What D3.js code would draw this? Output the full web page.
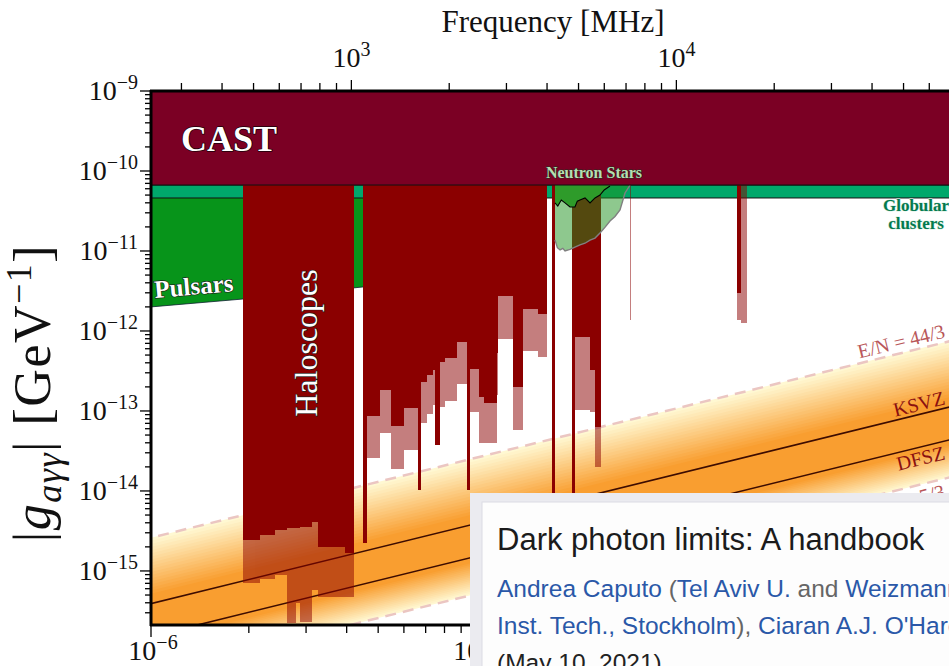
<!DOCTYPE html>
<html>
<head>
<meta charset="utf-8">
<title>Axion-photon coupling limits</title>
<script src="https://d3js.org/d3.v7.min.js"></script>
<style>
  body { margin: 0; background: #fff; }
  svg { display: block; }
</style>
</head>
<body>
<svg id="chart"></svg>
<script>
// masses in µeV, couplings |g| in GeV^-1
const castLimit = 6.68e-11;
const globularLimit = 4.6e-11;

// pulsar lower edge [mass, g]
const pulsarEdge = [[1.0, 2.0e-12], [1.919, 2.51e-12], [4.49, 3.55e-12], [6.0, 3.9e-12]];

// haloscope steps: [m0, m1, dark limit, faint limit]
const haloscopes = [
  [1.919, 2.165, 2.44e-15, 7.08e-16],
  [2.165, 2.40, 2.82e-15, 7.94e-16],
  [2.40, 2.62, 3.25e-15, 8.91e-16],
  [2.62, 2.79, 3.45e-15, 2.24e-16],
  [2.79, 2.874, 3.45e-15, 4.0e-16],
  [2.874, 3.13, 3.55e-15, 2.3e-16],
  [3.13, 3.265, 4.1e-15, 5.8e-16],
  [3.265, 3.953, 1.97e-15, 4.73e-16],
  [3.953, 4.214, 1.68e-15, 4.73e-16],
  [4.49, 4.62, 2.24e-15, 2.24e-15],
  [4.62, 5.065, 8.66e-14, 2.58e-14],
  [5.065, 5.476, 1.83e-13, 5.31e-14],
  [5.476, 6.004, 6.49e-14, 1.88e-14],
  [6.004, 6.63, 1.09e-13, 3.25e-14],
  [6.63, 6.772, 1.03e-14, 1.03e-14],
  [6.772, 7.07, 2.3e-13, 7.08e-14],
  [7.07, 7.376, 2.82e-13, 9.17e-14],
  [7.376, 7.48, 3.25e-13, 1.19e-13],
  [7.48, 7.75, 3.76e-14, 3.76e-14],
  [7.75, 8.03, 4.1e-13, 1.13e-13],
  [8.03, 8.74, 4.6e-13, 1.33e-13],
  [8.74, 9.38, 7.29e-13, 2.17e-13],
  [9.38, 9.58, 1.03e-14, 1.03e-14],
  [9.58, 10.21, 3.35e-13, 9.7e-14],
  [10.21, 10.58, 1.5e-13, 4.0e-14],
  [10.58, 11.6, 1.26e-13, 3.98e-14],
  [11.6, 11.68, 5.31e-13, 1.58e-13],
  [11.68, 13.0, 2.74e-12, 7.94e-13],
  [13.0, 13.95, 2.0e-13, 5.79e-14],
  [13.95, 15.52, 1.88e-12, 5.62e-13],
  [15.52, 16.54, 1.63e-12, 4.73e-13],
  [17.14, 17.5, 1.37e-15, 1.37e-15],
  [19.74, 20.16, 1.37e-15, 1.37e-15],
  [20.16, 22.43, 8.41e-13, 1.03e-13],
  [22.43, 23.24, 3.25e-13, 9.7e-14],
  [23.24, 24.24, 6.31e-14, 2.0e-14],
  [29.78, 30.0, castLimit, 1.37e-12],
  [63.55, 65.6, 3.0e-12, 1.37e-12],
  [65.6, 68.2, castLimit, 1.26e-12]
];

// neutron stars: faint lower edge and solid lower edge
const nsFaint = [[17.5, 1.37e-11], [17.8, 1.1e-11], [18.14, 1.03e-11], [18.5, 1.08e-11],
  [18.79, 1.0e-11], [19.46, 1.05e-11], [20.16, 1.12e-11], [20.89, 1.19e-11], [21.65, 1.25e-11],
  [22.43, 1.37e-11], [23.24, 1.45e-11], [24.07, 1.68e-11], [25.0, 2.0e-11], [25.84, 2.37e-11],
  [26.77, 2.7e-11], [27.74, 3.25e-11], [28.74, 5.31e-11], [29.78, 6.68e-11]];
const nsSolid = [[17.5, 3.98e-11], [17.85, 3.65e-11], [18.3, 4.34e-11], [18.79, 4.0e-11],
  [19.46, 3.55e-11], [20.16, 3.55e-11], [20.5, 4.2e-11], [20.89, 4.34e-11], [21.65, 4.6e-11],
  [22.43, 3.98e-11], [23.24, 4.6e-11], [24.07, 5.01e-11], [24.8, 5.79e-11], [25.84, 6.49e-11]];

// QCD axion lines, coupling at 1 µeV (g grows linearly with mass)
const qcdNames = ["E/N = 44/3", "KSVZ", "DFSZ", "E/N = 5/3"];
const qcdAt1ueV = [2.6e-15, 3.91e-16, 1.52e-16, 5.16e-17];
const bandCore = [5.2e-16, 1.3e-16];

const width = 949, height = 666;
const ueV = 1e-6;
const planck = 4.1357e-9; // eV per MHz

const svg = d3.select("#chart").attr("width", width).attr("height", height);
const serif = '"Liberation Serif", "DejaVu Serif", serif';

const x = d3.scaleLog().domain([1e-6, 1e-3]).range([151, 1126]);
const y = d3.scaleLog().domain([2.11e-16, 1e-9]).range([625, 91]);
const xf = d3.scaleLog().domain([1e-6 / planck, 1e-3 / planck]).range(x.range());

svg.append("clipPath").attr("id", "plotclip")
  .append("rect").attr("x", 151).attr("y", 91).attr("width", 975).attr("height", 534);

const plot = svg.append("g").attr("clip-path", "url(#plotclip)");
const px = m => x(m * ueV);
const line = d3.line().x(d => px(d[0])).y(d => y(d[1]));

// QCD band
const bandColor = d3.interpolateRgb("#fff8d2", "#f99e30");
const nLevels = 18;
const lerpLog = (a, b, t) => Math.exp(Math.log(a) + (Math.log(b) - Math.log(a)) * t);
d3.range(nLevels + 1).forEach(k => {
  const t = k / nLevels;
  const hi = lerpLog(qcdAt1ueV[0], bandCore[0], t);
  const lo = lerpLog(qcdAt1ueV[3], bandCore[1], t);
  plot.append("path")
    .attr("d", line([[0.1, hi * 0.1], [2000, hi * 2000], [2000, lo * 2000], [0.1, lo * 0.1]]) + "Z")
    .attr("fill", bandColor(t));
});

qcdAt1ueV.forEach((g0, i) => {
  const dashed = i === 0 || i === 3;
  plot.append("path")
    .attr("d", line([[0.1, g0 * 0.1], [2000, g0 * 2000]]))
    .attr("fill", "none")
    .attr("stroke", dashed ? "#ebc6c2" : "#3d0c00")
    .attr("stroke-width", dashed ? 2.5 : 1.6)
    .attr("stroke-dasharray", dashed ? "11,7" : null);
});

// pulsars and globular clusters
plot.append("path")
  .attr("d", d3.area().x(d => px(d[0])).y0(d => y(d[1])).y1(y(globularLimit))(pulsarEdge))
  .attr("fill", "#07941a");
plot.append("path")
  .attr("d", line(pulsarEdge))
  .attr("fill", "none").attr("stroke", "#123").attr("stroke-width", 0.8);
plot.append("rect")
  .attr("x", 151).attr("width", 975)
  .attr("y", y(castLimit)).attr("height", y(globularLimit) - y(castLimit))
  .attr("fill", "#00a86b").attr("stroke", "#111").attr("stroke-width", 1);

// haloscopes
const faint = plot.append("g").attr("opacity", 0.5);
const solid = plot.append("g");
haloscopes.forEach(([m0, m1, gDark, gFaint]) => {
  faint.append("rect")
    .attr("x", px(m0)).attr("width", px(m1) - px(m0))
    .attr("y", y(1e-9)).attr("height", y(gFaint) - y(1e-9))
    .attr("fill", "#8b0000").attr("shape-rendering", "crispEdges");
  solid.append("rect")
    .attr("x", px(m0)).attr("width", px(m1) - px(m0))
    .attr("y", y(1e-9)).attr("height", y(gDark) - y(1e-9))
    .attr("fill", "#8b0000").attr("shape-rendering", "crispEdges");
});

// neutron stars
const nsArea = d3.area().x(d => px(d[0])).y0(d => y(d[1])).y1(y(castLimit));
plot.append("path").attr("d", nsArea(nsFaint))
  .attr("fill", "rgb(30,145,30)").attr("fill-opacity", 0.5);
plot.append("path").attr("d", line(nsFaint))
  .attr("fill", "none").attr("stroke", "#808080").attr("stroke-width", 1.4);
plot.append("path").attr("d", nsArea(nsSolid)).attr("fill", "#2e9b2a");
plot.append("path").attr("d", line(nsSolid))
  .attr("fill", "none").attr("stroke", "#000").attr("stroke-width", 1.1);

// CAST
plot.append("rect")
  .attr("x", 151).attr("width", 975)
  .attr("y", y(1e-9)).attr("height", y(castLimit) - y(1e-9))
  .attr("fill", "#7b0024").attr("stroke", "#111").attr("stroke-width", 1);

// region labels
const outlined = (sel, stroke, w) => sel.attr("stroke", stroke).attr("stroke-width", w)
  .attr("paint-order", "stroke").attr("stroke-linejoin", "round");

outlined(plot.append("text").attr("x", 181).attr("y", 151)
  .attr("font-family", serif).attr("font-size", 36).attr("font-weight", "bold")
  .attr("fill", "#fff").text("CAST"), "#1a0008", 1.5);

outlined(plot.append("text").attr("transform", "translate(317,343) rotate(-90)")
  .attr("text-anchor", "middle").attr("font-family", serif).attr("font-size", 32)
  .attr("fill", "#fff").text("Haloscopes"), "#222", 1.4);

outlined(plot.append("text").attr("transform", "translate(155,298) rotate(-5)")
  .attr("font-family", serif).attr("font-size", 25).attr("font-weight", "bold")
  .attr("fill", "#fff").text("Pulsars"), "#1a2a1a", 1.4);

outlined(plot.append("text").attr("x", 594).attr("y", 178).attr("text-anchor", "middle")
  .attr("font-family", serif).attr("font-size", 16).attr("font-weight", "bold")
  .attr("fill", "#b6deb2").text("Neutron Stars"), "#203020", 1);

["Globular", "clusters"].forEach((t, i) => {
  outlined(plot.append("text").attr("x", 916).attr("y", 211 + i * 18).attr("text-anchor", "middle")
    .attr("font-family", serif).attr("font-size", 17).attr("font-weight", "bold")
    .attr("fill", "#047a4e").text(t), "#d8efe4", 1);
});

// QCD line labels
const angle = Math.atan2(y(qcdAt1ueV[0] * 1000) - y(qcdAt1ueV[0]), px(1000) - px(1)) * 180 / Math.PI;
const labelM = 10 ** ((945 - 151) / 325); // µeV at x = 945
const labelOffset = [-5, -4, 18, 19];
const labelColor = ["#b9575a", "#8b1010", "#8b1010", "#b9575a"];
qcdNames.forEach((name, i) => {
  const g0 = qcdAt1ueV[i] * labelM;
  plot.append("text")
    .attr("transform", `translate(946,${y(g0) + labelOffset[i]}) rotate(${angle})`)
    .attr("text-anchor", "end").attr("font-family", serif).attr("font-size", 20)
    .attr("fill", labelColor[i]).text(name);
});

// axes
const ax = svg.append("g").attr("stroke", "#000");
ax.append("line").attr("x1", 151).attr("x2", 151).attr("y1", 90).attr("y2", 626).attr("stroke-width", 3);
ax.append("line").attr("x1", 150).attr("x2", 949).attr("y1", 625).attr("y2", 625).attr("stroke-width", 3);
ax.append("line").attr("x1", 150).attr("x2", 949).attr("y1", 91).attr("y2", 91).attr("stroke-width", 3);

const decades = (lo, hi) => d3.range(lo, hi + 1).flatMap(e => d3.range(1, 10).map(k => ({ v: k * 10 ** e, major: k === 1, e })));

decades(-16, -9).filter(d => d.v >= 2.11e-16 && d.v <= 1e-9).forEach(d => {
  ax.append("line").attr("x1", 151).attr("x2", d.major ? 140 : 145)
    .attr("y1", y(d.v)).attr("y2", y(d.v)).attr("stroke-width", 1.3);
});
decades(-6, -4).filter(d => x(d.v) <= 949).forEach(d => {
  ax.append("line").attr("y1", 625).attr("y2", d.major ? 637 : 633)
    .attr("x1", x(d.v)).attr("x2", x(d.v)).attr("stroke-width", 1.3);
});
decades(2, 5).filter(d => xf(d.v) >= 151 && xf(d.v) <= 949).forEach(d => {
  ax.append("line").attr("y1", 91).attr("y2", d.major ? 80 : 83)
    .attr("x1", xf(d.v)).attr("x2", xf(d.v)).attr("stroke-width", 1.3);
});

function powerLabel(xp, yp, e, anchor) {
  const t = svg.append("text").attr("x", xp).attr("y", yp).attr("text-anchor", anchor)
    .attr("font-family", serif).attr("font-size", 28).attr("fill", "#111");
  t.append("tspan").text("10");
  t.append("tspan").attr("dy", -11).attr("font-size", 20).text(e < 0 ? "\u2212" + (-e) : String(e));
}
d3.range(-15, -8).forEach(e => powerLabel(138, y(10 ** e) + 9, e, "end"));
[-6, -5].forEach(e => powerLabel(x(10 ** e) + 2, 660, e, "middle"));
[3, 4].forEach(e => powerLabel(xf(10 ** e), 67, e, "middle"));

svg.append("text").attr("x", 553).attr("y", 32).attr("text-anchor", "middle")
  .attr("font-family", serif).attr("font-size", 31).attr("fill", "#111").text("Frequency [MHz]");

const ylab = svg.append("text").attr("transform", "translate(50,393) rotate(-90)")
  .attr("text-anchor", "middle").attr("font-family", serif).attr("font-size", 52)
  .attr("letter-spacing", 1.5).attr("fill", "#111");
ylab.append("tspan").text("|");
ylab.append("tspan").attr("font-style", "italic").text("g");
ylab.append("tspan").attr("font-style", "italic").attr("font-size", 36).attr("dy", 11).text("a\u03b3\u03b3");
ylab.append("tspan").attr("dy", -11).text("| [GeV");
ylab.append("tspan").attr("font-size", 36).attr("dy", -19).text("\u22121");
ylab.append("tspan").attr("dy", 19).text("]");

// pasted paper snippet
const card = svg.append("g");
card.append("rect").attr("x", 470).attr("y", 493).attr("width", 479).attr("height", 173).attr("fill", "#ebebf0");
card.append("rect").attr("x", 482).attr("y", 502).attr("width", 480).attr("height", 180)
  .attr("fill", "#fdfdfd").attr("stroke", "#dcdce3");
const sans = '"Liberation Sans", Arial, sans-serif';
card.append("text").attr("x", 497).attr("y", 550).attr("font-family", sans).attr("font-size", 31)
  .attr("fill", "#1b1b1b").text("Dark photon limits: A handbook");
const blue = "#2a58a8", grey = "#666";
const lines = [
  [["Andrea Caputo", blue], [" (", grey], ["Tel Aviv U.", blue], [" and ", grey], ["Weizmann Inst.", blue]],
  [["Inst. Tech., Stockholm", blue], ["), ", grey], ["Ciaran A.J. O'Hare", blue], [" (Sydney U.)", grey]],
  [["(May 10, 2021)", "#222"]]
];
lines.forEach((parts, i) => {
  const t = card.append("text").attr("x", 497).attr("y", 597 + i * 37)
    .attr("font-family", sans).attr("font-size", 24.5);
  parts.forEach(([s, c]) => t.append("tspan").attr("fill", c).text(s));
});
</script>
</body>
</html>
